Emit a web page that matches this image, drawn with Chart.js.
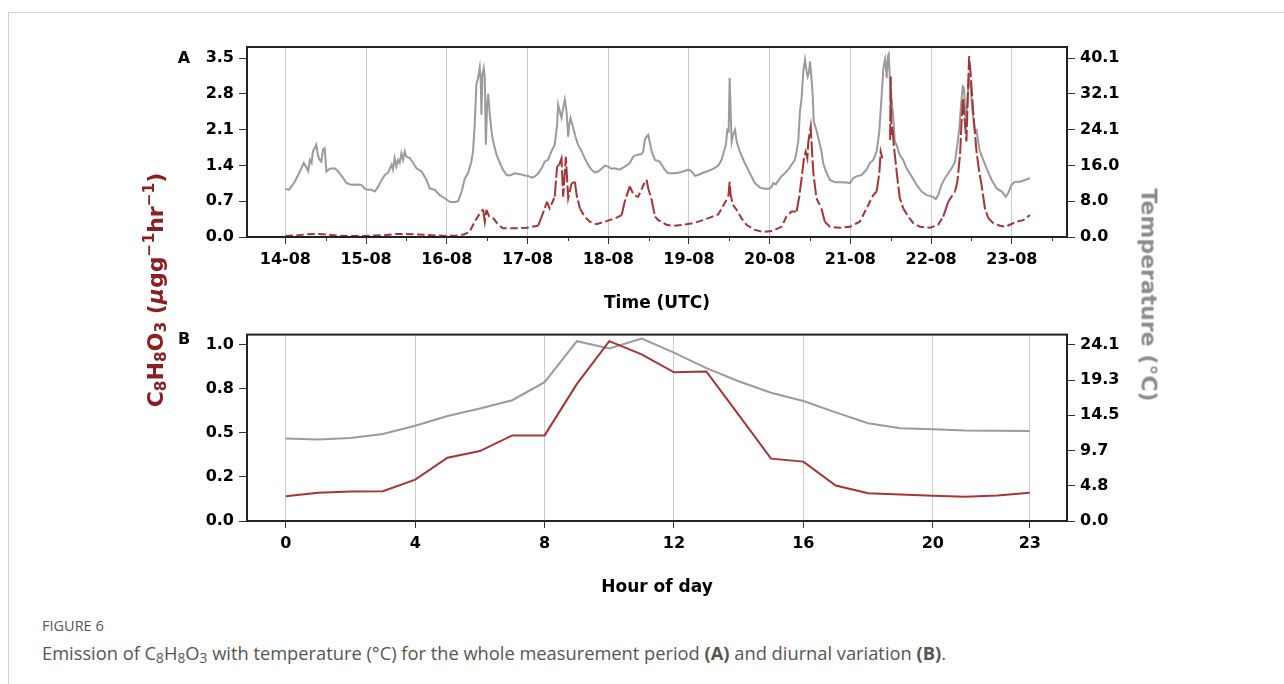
<!DOCTYPE html>
<html><head><meta charset="utf-8">
<script src="https://cdn.jsdelivr.net/npm/chart.js@4.4.0/dist/chart.umd.min.js"></script>
<style>
html,body{margin:0;padding:0;background:#fff;width:1284px;height:684px;overflow:hidden;font-family:'DejaVu Sans',sans-serif}
#frame{position:absolute;left:8px;top:12px;width:1300px;height:700px;border-top:1px solid #cfcfcf;border-left:1px solid #cfcfcf}
canvas{position:absolute;left:0}
#cA{top:0}
#cB{top:320px}
.panel{position:absolute;font:bold 16px 'DejaVu Sans';color:#000;transform:translate(-50%,-50%)}
.ylab{position:absolute;white-space:nowrap;font-family:'DejaVu Sans';font-weight:bold}
#ylabL{left:155px;top:290px;transform:translate(-50%,-50%) rotate(-90deg);font-size:22px;color:#8b1e1e}
#ylabR{left:1149px;top:295px;transform:translate(-50%,-50%) rotate(90deg);font-size:22px;color:#8c8c8c}
.ylab sub{font-size:0.7em;vertical-align:-0.25em;line-height:0}
.ylab sup{font-size:0.7em;vertical-align:0.55em;line-height:0}
#cap1{position:absolute;left:42px;top:616px;font:14.5px 'Open Sans';color:#555}
#cap2{position:absolute;left:42px;top:640px;font:18.3px 'Open Sans';color:#555;white-space:nowrap}
#cap2 sub{font-size:0.75em;vertical-align:-0.2em;line-height:0}
</style>
</head><body>
<div id="frame"></div>
<canvas id="cA" width="1284" height="320"></canvas>
<canvas id="cB" width="1284" height="290"></canvas>
<div class="panel" style="left:184px;top:57px">A</div>
<div class="panel" style="left:184px;top:338px">B</div>
<div class="ylab" id="ylabL">C<sub>8</sub>H<sub>8</sub>O<sub>3</sub> (<i>μ</i>gg<sup>−1</sup>hr<sup>−1</sup>)</div>
<div class="ylab" id="ylabR">Temperature (°C)</div>
<div id="cap1">FIGURE 6</div>
<div id="cap2">Emission of C<sub>8</sub>H<sub>8</sub>O<sub>3</sub> with temperature (°C) for the whole measurement period <b>(A)</b> and diurnal variation <b>(B)</b>.</div>
<script>
// ---- Panel A: whole measurement period (hours since 14-08 00:00 UTC) ----
const dayHours = [0,24,48,72,96,120,144,168,192,216];
const dateLabels = ['14-08','15-08','16-08','17-08','18-08','19-08','20-08','21-08','22-08','23-08'];
const emisTicksA = [0,0.7,1.4,2.1,2.8,3.5];
const emisTickLabelsA = ['0.0','0.7','1.4','2.1','2.8','3.5'];
const tempTicksA = [0,8.02,16.04,24.06,32.08,40.1];
const tempTickLabelsA = ['0.0','8.0','16.0','24.1','32.1','40.1'];

const tempSeries = [[0,10.8],[1.1,10.6],[2.8,12.4],[4.3,14.7],[5.5,16.6],[6.1,15.8],[6.8,14.8],[7.3,17.3],[7.8,16.6],[8.2,19.2],[8.7,19.9],[9.2,20.7],[9.7,18.4],[10.2,17.3],[10.7,16.9],[11.2,19.6],[11.7,19.9],[12.2,14.7],[13.2,15.3],[14.7,15.4],[15.7,14.7],[17.2,13.2],[18.2,12.1],[19.7,11.7],[21.6,11.8],[22.6,11.7],[23.6,10.9],[24.3,10.6],[25.6,10.6],[26.6,10.2],[27.6,11.3],[28.6,12.8],[29.6,13.9],[30.5,14.4],[31.6,16.2],[32.0,15.1],[32.5,17.7],[33.0,15.8],[33.5,17.3],[34.0,16.6],[34.5,18.8],[35.0,17.3],[35.5,19.2],[36.0,18.0],[37.0,17.7],[38.0,16.6],[39.0,15.4],[40.5,14.7],[42.0,12.8],[42.9,10.9],[44.4,10.6],[45.9,9.4],[47.4,8.7],[48.9,7.9],[50.4,7.8],[51.4,8.1],[52.4,10.2],[53.4,13.2],[54.3,14.3],[55.3,16.9],[55.8,19.2],[56.3,25.2],[56.8,34.2],[57.3,35.7],[57.8,38.0],[58.1,34.9],[58.3,27.4],[58.6,36.4],[59.0,37.9],[59.3,35.7],[59.6,20.7],[60.0,29.7],[60.3,32.1],[60.8,27.4],[61.3,23.7],[61.8,21.4],[62.8,18.4],[63.8,16.6],[64.7,15.1],[65.8,13.9],[66.7,13.8],[68.2,14.3],[69.7,14.1],[71.2,13.8],[72.2,13.7],[73.2,13.3],[74.2,13.6],[75.2,14.3],[76.2,15.4],[77.1,16.9],[78.1,17.3],[79.1,19.2],[80.1,20.7],[80.8,25.2],[81.1,29.7],[81.6,28.2],[82.1,26.7],[82.6,28.9],[83.1,30.8],[83.6,28.2],[84.1,22.5],[84.4,25.2],[84.8,26.7],[85.6,24.4],[86.4,22.2],[87.0,20.7],[88.1,19.2],[89.0,17.7],[90.0,16.2],[91.0,15.1],[92.0,14.5],[93.0,14.7],[94.0,15.3],[95.0,16.0],[96.0,15.8],[97.0,15.3],[98.0,15.4],[99.5,15.1],[100.9,15.8],[102.4,16.6],[103.4,18.0],[104.4,18.4],[105.9,18.6],[106.4,19.2],[106.9,21.8],[107.4,22.5],[107.9,22.9],[108.4,21.1],[108.9,19.2],[109.9,17.3],[111.3,16.9],[112.8,15.1],[113.8,14.3],[115.3,14.3],[116.8,14.4],[118.3,14.7],[119.8,15.1],[120.8,14.7],[121.8,13.7],[122.7,13.9],[124.2,14.4],[125.7,14.8],[127.2,15.3],[128.7,16.0],[129.7,17.3],[130.4,19.2],[131.0,20.7],[131.4,24.0],[131.8,23.7],[132.1,35.7],[132.4,28.2],[132.7,21.4],[133.1,22.9],[133.7,24.0],[134.2,21.4],[135.1,19.2],[136.6,16.6],[138.1,14.3],[139.6,12.1],[141.1,11.1],[142.6,10.8],[143.9,10.8],[144.6,11.3],[145.0,12.1],[145.8,11.8],[146.5,12.6],[147.5,13.6],[148.5,14.3],[149.5,15.1],[150.5,16.2],[151.5,17.3],[152.0,19.2],[152.5,21.4],[153.0,28.2],[153.5,31.2],[154.0,37.1],[154.5,39.8],[155.0,37.1],[155.3,36.0],[155.7,37.1],[156.0,39.4],[156.5,34.9],[156.8,31.9],[157.1,25.9],[157.9,24.0],[158.7,21.4],[159.4,19.2],[159.9,16.6],[160.7,14.8],[161.9,12.8],[163.4,12.3],[165.4,12.3],[166.9,12.2],[167.9,12.1],[168.8,13.2],[169.8,13.6],[171.3,13.9],[172.8,15.1],[173.8,16.6],[174.8,17.3],[175.8,19.2],[176.6,23.7],[177.3,31.9],[177.8,37.9],[178.3,39.8],[178.8,35.7],[179.1,40.5],[179.4,41.0],[179.8,34.2],[180.1,28.2],[180.4,29.7],[180.7,27.4],[181.2,21.4],[181.7,20.7],[182.7,18.4],[183.7,17.3],[184.7,15.4],[186.2,13.6],[187.7,11.7],[189.2,10.2],[190.7,9.4],[192.6,9.0],[193.4,8.5],[194.1,9.4],[195.1,11.7],[196.1,13.2],[197.1,14.3],[198.1,15.4],[199.1,16.9],[199.8,20.7],[200.4,24.4],[200.9,29.7],[201.4,33.8],[201.8,33.4],[202.1,28.2],[202.4,24.4],[202.7,29.7],[203.2,35.7],[203.7,33.8],[204.3,28.2],[205.0,23.7],[205.5,24.0],[206.0,21.4],[206.5,19.2],[207.5,17.3],[208.5,15.4],[210.0,12.8],[211.5,10.9],[213.0,10.2],[214.2,9.0],[214.9,9.8],[215.9,11.7],[216.9,12.4],[218.4,12.4],[219.9,12.8],[221.4,13.2]];

const emisSeries = [[0,0.02],[3,0.03],[6,0.05],[9,0.06],[12,0.05],[15,0.03],[18,0.02],[21,0.02],[24,0.02],[27,0.03],[30,0.04],[33,0.06],[36,0.06],[39,0.05],[42,0.04],[45,0.03],[48,0.02],[51,0.03],[53,0.05],[54.8,0.10],[56.3,0.30],[57.8,0.46],[58.8,0.54],[59.3,0.30],[59.8,0.53],[60.6,0.40],[61.8,0.37],[63.3,0.24],[64.7,0.17],[67.7,0.17],[71.7,0.18],[75.2,0.22],[77.1,0.56],[77.8,0.69],[78.6,0.56],[80.1,0.79],[80.8,1.38],[81.4,1.41],[82.1,1.54],[82.6,0.79],[83.4,1.57],[84.1,0.76],[85.1,1.05],[86.1,1.08],[86.6,0.82],[87.6,0.56],[89.0,0.40],[90.5,0.30],[92.5,0.25],[95.5,0.31],[98.5,0.38],[100.0,0.43],[100.9,0.69],[102.4,0.99],[103.6,0.82],[104.9,0.79],[106.9,1.08],[107.4,1.12],[107.9,0.95],[108.9,0.73],[109.9,0.40],[110.9,0.33],[113.3,0.24],[115.3,0.22],[118.3,0.24],[121.2,0.27],[124.2,0.33],[126.2,0.38],[128.7,0.44],[131.7,0.79],[132.1,1.08],[132.4,0.82],[133.1,0.63],[134.2,0.53],[135.6,0.37],[137.1,0.24],[139.6,0.14],[142.1,0.10],[145.0,0.12],[147.5,0.20],[149.0,0.40],[150.5,0.50],[152.0,0.50],[152.8,0.79],[153.5,1.15],[154.2,1.54],[154.7,1.67],[155.2,1.54],[155.5,1.87],[156.2,2.16],[156.6,1.67],[157.0,1.25],[157.9,0.76],[159.4,0.56],[160.4,0.30],[161.9,0.20],[164.9,0.18],[167.9,0.20],[170.8,0.30],[173.8,0.69],[174.8,0.82],[175.8,0.89],[176.6,1.25],[177.0,1.67],[177.5,1.54],[178.6,null],[179.8,1.9],[180.0,3.14],[180.2,2.0],[180.5,2.16],[180.9,1.8],[181.7,1.31],[182.2,1.02],[182.7,0.76],[183.7,0.56],[185.2,0.40],[186.7,0.27],[188.7,0.20],[191.7,0.18],[194.1,0.24],[195.6,0.40],[197.1,0.69],[198.1,0.79],[199.1,0.89],[199.8,1.08],[200.6,1.61],[201.1,2.33],[201.5,2.72],[202.0,2.26],[202.5,1.87],[203.3,3.54],[203.7,3.24],[204.1,2.85],[204.5,2.46],[205.0,2.06],[205.5,1.67],[206.3,1.28],[207.0,1.02],[208.0,0.56],[209.0,0.37],[210.5,0.27],[212.5,0.22],[214.2,0.20],[215.4,0.24],[217.4,0.30],[219.4,0.33],[221.4,0.43]];

// ---- Panel B: diurnal variation ----
const hourOfDay = [0,1,2,3,4,5,6,7,8,9,10,11,12,13,14,15,16,17,18,19,20,21,22,23];
const diurnalEmission = [0.141,0.160,0.168,0.169,0.235,0.359,0.397,0.486,0.486,0.778,1.021,0.946,0.844,0.849,0.602,0.354,0.337,0.201,0.158,0.151,0.143,0.138,0.145,0.160];
const diurnalTemp = [11.29,11.15,11.37,11.91,13.04,14.39,15.41,16.55,19.02,24.64,23.64,24.99,23.06,20.94,19.15,17.57,16.45,14.88,13.39,12.72,12.58,12.41,12.37,12.32];
const hourTicks = [0,4,8,12,16,20,23];
const emisTicksB = [0,0.25,0.5,0.75,1.0];
const emisTickLabelsB = ['0.0','0.2','0.5','0.8','1.0'];
const tempTicksB = [0,4.828,9.656,14.484,19.312,24.14];
const tempTickLabelsB = ['0.0','4.8','9.7','14.5','19.3','24.1'];

const RED = '#a73434', GREY = '#9b9b9b';
const FONT = 'DejaVu Sans';
const TICK_SIZE = 16;

const framePlugin = {
  id: 'frame',
  afterDraw(chart, args, opts) {
    const {ctx, chartArea: a} = chart;
    ctx.save();
    if (opts.minor) {
      const xs = chart.scales.x;
      ctx.lineWidth = 1; ctx.strokeStyle = '#333';
      opts.minor.forEach(v => {
        const px = Math.round(xs.getPixelForValue(v)) + 0.5;
        if (px < a.left || px > a.right) return;
        ctx.beginPath(); ctx.moveTo(px, a.bottom); ctx.lineTo(px, a.bottom + 4); ctx.stroke();
      });
    }
    ctx.strokeStyle = '#222'; ctx.lineWidth = 2;
    ctx.strokeRect(a.left, a.top, a.right - a.left, a.bottom - a.top);
    ctx.restore();
  }
};

function yAxis(pos, min, max, ticks, labels, width) {
  return {
    position: pos, min: min, max: max,
    afterBuildTicks: s => { s.ticks = ticks.map(v => ({value: v})); },
    afterFit: s => { s.width = width; },
    grid: {drawOnChartArea: false, drawTicks: true, tickLength: 8, tickColor: '#333', lineWidth: 1},
    border: {display: false},
    ticks: {padding: 5, color: '#000', font: {family: FONT, weight: 'bold', size: TICK_SIZE},
            callback: (v, i) => labels[i]}
  };
}

// steep parts of the emission trace look solid, flat parts dashed
function emisDash(c) {
  const dx = Math.abs(c.p1.x - c.p0.x), dy = Math.abs(c.p1.y - c.p0.y);
  return dy > 2.5 * dx ? [16, 3] : [7.5, 3.5];
}

Chart.defaults.font.family = FONT;

new Chart(document.getElementById('cA'), {
  type: 'line',
  data: {datasets: [
    {label: 'C8H8O3', yAxisID: 'yL', data: emisSeries.map(p => ({x: p[0], y: p[1]})),
     borderColor: RED, borderWidth: 2, borderDash: [7.5, 3.5], pointRadius: 0, tension: 0, spanGaps: false,
     segment: {borderDash: emisDash}},
    {label: 'Temperature', yAxisID: 'yR', data: tempSeries.map(p => ({x: p[0], y: p[1]})),
     borderColor: GREY, borderWidth: 2, pointRadius: 0, tension: 0}
  ]},
  options: {
    animation: false, responsive: false, events: [],
    layout: {padding: {top: 47, left: 0, right: 0, bottom: 0}},
    plugins: {legend: {display: false}, tooltip: {enabled: false},
              frame: {minor: dayHours.map(h => h + 12)}},
    scales: {
      x: {type: 'linear', min: -11.4, max: 232.4,
          afterBuildTicks: s => { s.ticks = dayHours.map(v => ({value: v})); },
          afterFit: s => { s.height = 83; },
          ticks: {autoSkip: false, maxRotation: 0, padding: 6, color: '#000',
                  font: {family: FONT, weight: 'bold', size: TICK_SIZE}, callback: (v, i) => dateLabels[i]},
          grid: {color: '#cccccc', lineWidth: 1, tickColor: '#333', tickLength: 7},
          border: {display: false},
          title: {display: true, text: 'Time (UTC)', color: '#000',
                  font: {family: FONT, weight: 'bold', size: 17}, padding: {top: 0, bottom: 6}}},
      yL: yAxis('left', 0, 3.72, emisTicksA, emisTickLabelsA, 247),
      yR: yAxis('right', 0, 42.62, tempTicksA, tempTickLabelsA, 217)
    }
  },
  plugins: [framePlugin]
});

new Chart(document.getElementById('cB'), {
  type: 'line',
  data: {datasets: [
    {label: 'C8H8O3', yAxisID: 'yL', data: hourOfDay.map((h, i) => ({x: h, y: diurnalEmission[i]})),
     borderColor: RED, borderWidth: 2, pointRadius: 0, tension: 0},
    {label: 'Temperature', yAxisID: 'yR', data: hourOfDay.map((h, i) => ({x: h, y: diurnalTemp[i]})),
     borderColor: GREY, borderWidth: 2, pointRadius: 0, tension: 0}
  ]},
  options: {
    animation: false, responsive: false, events: [],
    layout: {padding: {top: 11, left: 0, right: 0, bottom: 0}},
    plugins: {legend: {display: false}, tooltip: {enabled: false}, frame: {}},
    scales: {
      x: {type: 'linear', min: -1.2, max: 24.15,
          afterBuildTicks: s => { s.ticks = hourTicks.map(v => ({value: v})); },
          afterFit: s => { s.height = 89; },
          ticks: {autoSkip: false, maxRotation: 0, padding: 6, color: '#000',
                  font: {family: FONT, weight: 'bold', size: TICK_SIZE}, callback: (v) => String(v)},
          grid: {color: '#cccccc', lineWidth: 1, tickColor: '#333', tickLength: 7},
          border: {display: false},
          title: {display: true, text: 'Hour of day', color: '#000',
                  font: {family: FONT, weight: 'bold', size: 17}, padding: {top: 0, bottom: 12}}},
      yL: yAxis('left', 0, 1.058, emisTicksB, emisTickLabelsB, 247),
      yR: yAxis('right', 0, 25.54, tempTicksB, tempTickLabelsB, 217)
    }
  },
  plugins: [framePlugin]
});
</script>
</body></html>
